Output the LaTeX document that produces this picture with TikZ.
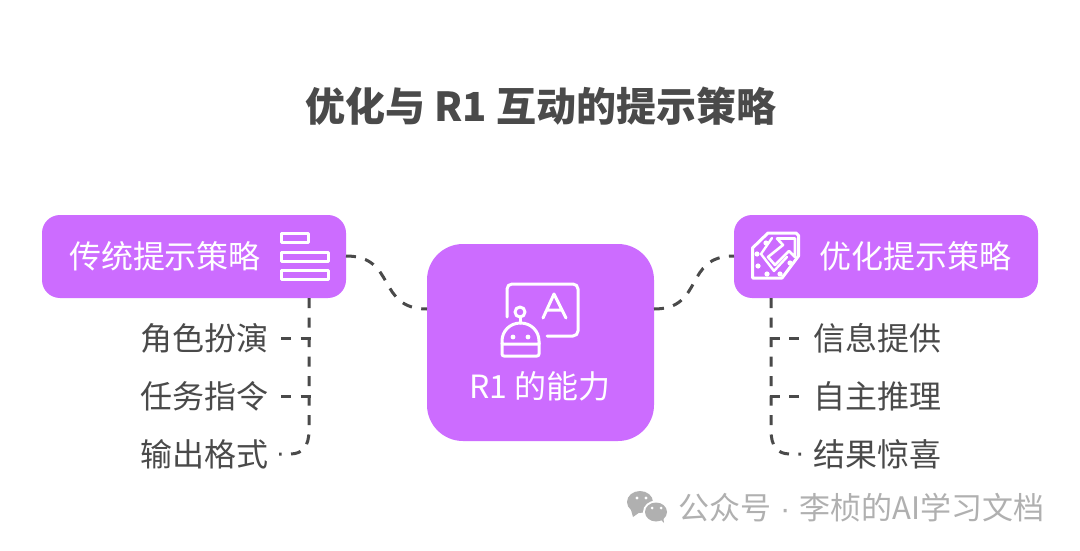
\documentclass[tikz,border=0pt]{standalone}
\usepackage{fontspec}
\setmainfont{Noto Sans CJK SC}
\newfontfamily\dotfont{Liberation Sans}
\definecolor{boxc}{HTML}{CC6CFF}
\definecolor{ink}{HTML}{4A4A4A}
\definecolor{wm}{HTML}{B0B0B0}
\tikzset{
  box/.style={fill=boxc,draw=none,rounded corners=#1},
  boxlabel/.style={text=white,font=\fontsize{32}{32}\selectfont,anchor=center,inner sep=0pt},
  item/.style={text=ink,font=\fontsize{32}{32}\selectfont,anchor=center,inner sep=0pt},
  link/.style={draw=ink,line width=3pt,dash pattern=on 10pt off 9.5pt},
  icon/.style={draw=white,line width=3pt,line join=round,line cap=round},
}
\begin{document}
\begin{tikzpicture}[x=1pt,y=-1pt]
\useasboundingbox (0,0) rectangle (1080,551);
\fill[white] (0,0) rectangle (1080,551);
\node[text=ink,font=\bfseries\fontsize{40}{40}\selectfont,inner sep=0pt] (title) at (541,106) {优化与 R1 互动的提示策略};
\fill[box=18pt] (42,215) rectangle (346,298);
\fill[box=18pt] (734,215) rectangle (1038,298);
\fill[box=36pt] (427,244) rectangle (654,441);
\node[boxlabel] (ltext) at (165,256) {传统提示策略};
\node[boxlabel] (rtext) at (915,256) {优化提示策略};
\node[boxlabel] (ctext) at (540,386) {R1 的能力};
\node[item] (a1) at (204,338) {角色扮演};
\node[item] (a2) at (204,396) {任务指令};
\node[item] (a3) at (204,454) {输出格式};
\node[item] (b1) at (877,338) {信息提供};
\node[item] (b2) at (877,396) {自主推理};
\node[item] (b3) at (877,454) {结果惊喜};
% connectors
\coordinate (le) at (346,256); \coordinate (cw) at (427,309);
\coordinate (ce) at (654,309); \coordinate (rw) at (734,256);
\coordinate (lt) at (309,298); \coordinate (rt) at (771,298);
\draw[link] (le) .. controls (397,256) and (376,309) .. (cw);
\draw[link] (ce) .. controls (705,309) and (683,256) .. (rw);
\draw[link] (lt) -- (309,430) .. controls (309,446) and (303,454) .. (290,454) -- (279,454);
\draw[link] (281,338) -- (310.5,338);
\draw[link] (281,396) -- (310.5,396);
\draw[link] (rt) -- (771,430) .. controls (771,446) and (777,454) .. (790,454) -- (801,454);
\draw[link] (799,338) -- (769.5,338);
\draw[link] (799,396) -- (769.5,396);
% left icon
\draw[icon] (281.5,233.5) rectangle (308.5,242);
\draw[icon] (281.5,252) rectangle (328,261);
\draw[icon] (281.5,270.5) rectangle (328,279.5);
% center icon
\draw[icon,rounded corners=5pt] (507,317) -- (507,284) -- (578,284) -- (578,336) -- (547,336);
\draw[icon] (543,318) -- (554,294) -- (566,318) (547,310) -- (562,310);
\draw[icon] (520,317) -- (520,323);
\draw[icon] (520,312) circle (5pt);
\draw[icon,rounded corners=2pt] (502,343) -- (502,356) -- (539,356) -- (539,343);
\draw[icon] (502,344) -- (502,341) .. controls (502,331) and (510,323) .. (520.5,323) .. controls (531,323) and (539,331) .. (539,341) -- (539,344) -- cycle;
\fill[white] (513,337) circle (2.4pt) (528,337) circle (2.4pt);
% right icon
\draw[icon] (752.5,278) -- (752.5,248) -- (768,233) -- (796,233) -- (798.5,235.5) -- (798.5,256) -- (782,278) -- cycle;
\draw[icon,line width=2.6pt] (777,238.5) -- (795,238.5) -- (795,257) -- (789,251) -- (775,265) -- (768,257) -- (783,245) -- cycle;
\draw[icon,line width=2.4pt] (772,238) -- (761,254) -- (774,271) -- (787,257);
\fill[white] (766,243) circle (2.6pt) (757,254) circle (2.6pt) (758,266) circle (2.6pt) (767,274) circle (2.6pt) (780,274) circle (2.6pt) (790,263) circle (2.6pt);
% watermark
\fill[wm] (640,502) ellipse (13pt and 11pt);
\fill[wm] (631,510) -- (633,517) -- (640,512) -- cycle;
\fill[white] (656,512) ellipse (13pt and 11.5pt);
\fill[wm] (656,512) ellipse (11pt and 9.5pt);
\fill[wm] (659,518) -- (664,523) -- (663,515) -- cycle;
\fill[white] (637,498) circle (1.7pt) (646,498) circle (1.7pt) (652,508) circle (1.5pt) (661,508) circle (1.5pt);
\node[text=wm,font=\fontsize{31}{31}\selectfont,inner sep=0pt,anchor=west] (wmtext) at (678,508) {公众号\hspace{9pt}{\dotfont ·}\hspace{9pt}李桢的AI学习文档};
\end{tikzpicture}
\end{document}
